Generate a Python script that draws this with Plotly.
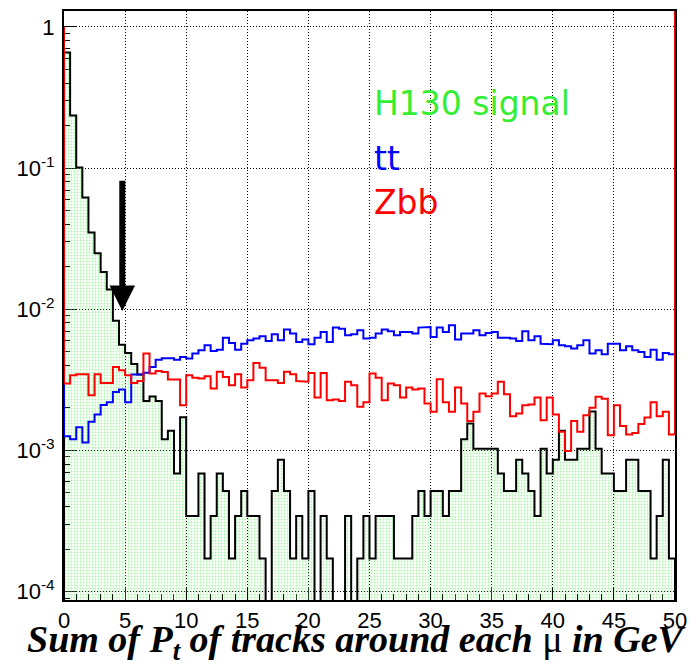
import numpy as np
import plotly.graph_objects as go

# ---------------- data (100 bins, 0..50 GeV) ----------------
x_min, x_max, n_bins = 0.0, 50.0, 100

signal = [0.66, 0.236, 0.101, 0.062, 0.035, 0.025, 0.0184, 0.0138, 0.0083, 0.0056,
          0.0049, 0.0041, 0.00345, 0.00224, 0.00241, 0.00224, 0.0012, 0.00138, 0.000688, 0.00172,
          0.000344, 0.000344, 0.000688, 0.000172, 0.000344, 0.000688, 0.000516, 0.000172, 0.000344, 0.000516,
          0.000344, 0.000344, 0.000172, 0.0, 0.000516, 0.00086, 0.000516, 0.000172, 0.000344, 0.000172,
          0.000516, 0.0, 0.000344, 0.000172, 0.0, 0.0, 0.000344, 0.0, 0.000172, 0.000344,
          0.000172, 0.000344, 0.000344, 0.000344, 0.000172, 0.000172, 0.000172, 0.000344, 0.000516, 0.000344,
          0.000516, 0.000516, 0.000344, 0.000516, 0.000516, 0.0012, 0.00155, 0.00103, 0.00103, 0.00103,
          0.00103, 0.000688, 0.000516, 0.000516, 0.00086, 0.000688, 0.000516, 0.000344, 0.00103, 0.000688,
          0.00086, 0.00138, 0.00086, 0.00086, 0.00103, 0.00103, 0.00189, 0.00103, 0.000688, 0.000688,
          0.000516, 0.000516, 0.00086, 0.00086, 0.000516, 0.000516, 0.000172, 0.000344, 0.00086, 0.000172]

tt = [0.00126, 0.0012, 0.00146, 0.00114, 0.0016, 0.0018, 0.0021, 0.0022, 0.0026, 0.0027,
      0.0022, 0.00345, 0.00345, 0.00355, 0.0039, 0.0044, 0.0045, 0.0045, 0.0044, 0.0046,
      0.00448, 0.00486, 0.00513, 0.00556, 0.00507, 0.00518, 0.0063, 0.00578, 0.00518, 0.0057,
      0.00603, 0.0062, 0.00644, 0.00597, 0.00666, 0.00603, 0.00718, 0.00673, 0.00587, 0.0061,
      0.00565, 0.0063, 0.00691, 0.00587, 0.00742, 0.00727, 0.00655, 0.00666, 0.0071, 0.0062,
      0.0063, 0.00673, 0.00718, 0.0070, 0.00655, 0.00691, 0.00691, 0.00673, 0.00742, 0.0075,
      0.00637, 0.00742, 0.00691, 0.0077, 0.0061, 0.00673, 0.00673, 0.0071, 0.00655, 0.0068,
      0.00691, 0.0063, 0.0063, 0.0062, 0.00597, 0.0070, 0.00603, 0.00644, 0.0057, 0.00565,
      0.00603, 0.00556, 0.00547, 0.00527, 0.00556, 0.00603, 0.00486, 0.00513, 0.0048, 0.0057,
      0.0057, 0.00513, 0.00547, 0.00513, 0.00498, 0.0046, 0.00518, 0.0044, 0.0049, 0.0048]

zbb = [0.00298, 0.00341, 0.00347, 0.00347, 0.00246, 0.00347, 0.00301, 0.00301, 0.00391, 0.0037,
       0.00341, 0.00301, 0.00311, 0.00486, 0.00351, 0.00366, 0.0036, 0.00318, 0.00318, 0.00209,
       0.00341, 0.00328, 0.00323, 0.00336, 0.00275, 0.00361, 0.00332, 0.0029, 0.00347, 0.00279,
       0.00314, 0.00417, 0.00385, 0.00314, 0.00314, 0.00301, 0.00361, 0.00347, 0.0031, 0.00307,
       0.00354, 0.00237, 0.00354, 0.00227, 0.0023, 0.00224, 0.00307, 0.0029, 0.00204, 0.0022,
       0.00351, 0.00328, 0.00227, 0.00298, 0.0029, 0.00237, 0.00279, 0.0027, 0.00275, 0.00215,
       0.00188, 0.0032, 0.0022, 0.00188, 0.00279, 0.00215, 0.00162, 0.00188, 0.00253, 0.00242,
       0.00253, 0.00307, 0.0025, 0.00175, 0.00183, 0.00209, 0.00212, 0.00237, 0.00164, 0.00237,
       0.0018, 0.00136, 0.00099, 0.00162, 0.00136, 0.00178, 0.00201, 0.0024, 0.00233, 0.00128,
       0.00209, 0.00149, 0.0013, 0.00133, 0.00154, 0.00171, 0.0022, 0.00175, 0.00188, 0.0013]

x_tick_vals = [0, 5, 10, 15, 20, 25, 30, 35, 40, 45, 50]
y_tick_vals = [1e-4, 1e-3, 1e-2, 1e-1, 1]
y_tick_text = ["10<sup>-4</sup>", "10<sup>-3</sup>", "10<sup>-2</sup>", "10<sup>-1</sup>", "1"]
y_log_range = [-4.059, 0.113]

labels = ["H130 signal", "tt", "Zbb"]
label_colors = ["#33ee33", "#0000ff", "#ff0000"]

# ---------------- helpers ----------------
edges = np.linspace(x_min, x_max, n_bins + 1)
FLOOR = 1e-9  # empty bins drop below the frame on the log scale


def outline(vals, left=None, right=None):
    xs, ys = [], []
    if left is not None:
        xs.append(edges[0]); ys.append(left)
    for i, v in enumerate(vals):
        v = v if v > 0 else FLOOR
        xs += [edges[i], edges[i + 1]]
        ys += [v, v]
    if right is not None:
        xs.append(edges[-1]); ys.append(right)
    return xs, ys


fig = go.Figure()

sx, sy = outline(signal, FLOOR, FLOOR)
fig.add_trace(go.Scatter(x=sx, y=sy, mode="lines", fill="toself",
                         fillcolor="rgba(0,0,0,0)",
                         fillpattern=dict(shape=".", fgcolor="#55ee55", bgcolor="rgba(0,0,0,0)",
                                          size=3, solidity=0.3),
                         line=dict(width=0), hoverinfo="skip"))
fig.add_trace(go.Scatter(x=sx, y=sy, mode="lines", line=dict(color="black", width=2)))

bx, by = outline(tt, 1, 1)
fig.add_trace(go.Scatter(x=bx, y=by, mode="lines", line=dict(color="#0000ff", width=2)))

rx, ry = outline(zbb, 1, 10 ** y_log_range[1])
fig.add_trace(go.Scatter(x=rx, y=ry, mode="lines", line=dict(color="#ff0000", width=2)))

axis_common = dict(showline=True, linewidth=2, linecolor="black", mirror=True,
                   ticks="inside", ticklen=12, tickwidth=1, tickcolor="black",
                   showgrid=True, gridcolor="black", gridwidth=1, griddash="1px,2px",
                   zeroline=False, layer="below traces")

fig.update_xaxes(range=[x_min, x_max], tickvals=x_tick_vals,
                 tickfont=dict(family="Liberation Sans", size=22, color="black"),
                 ticklabelstandoff=0,
                 minor=dict(ticks="inside", ticklen=6, dtick=1, tickcolor="black", showgrid=False),
                 **axis_common)
fig.update_yaxes(type="log", range=y_log_range, tickvals=y_tick_vals, ticktext=y_tick_text,
                 tickfont=dict(family="Liberation Sans", size=22, color="black"),
                 ticklabelstandoff=3,
                 minor=dict(ticks="inside", ticklen=6, dtick="D1", tickcolor="black", showgrid=False),
                 **axis_common)

annotations = []
label_y = [0.843, 0.7496, 0.6756]
for txt, col, yy in zip(labels, label_colors, label_y):
    annotations.append(dict(text=txt, x=0.504, y=yy, xref="paper", yref="paper",
                            xanchor="left", yanchor="middle", showarrow=False,
                            font=dict(family="DejaVu Sans", size=33, color=col)))

annotations.append(dict(
    text="Sum of P<sub>t</sub> of tracks around each "
         "<span style='font-style:normal;font-weight:normal'>μ</span> in GeV",
    x=0.478, y=-0.071, xref="paper", yref="paper", xanchor="center", yanchor="middle",
    showarrow=False,
    font=dict(family="Liberation Serif", size=38, color="black", weight="bold", style="italic")))

# arrow marking the cut (log-axis annotation coordinates are log10)
annotations.append(dict(x=4.77, y=-2.012, ax=4.77, ay=-1.078, xref="x", yref="y",
                        axref="x", ayref="y", showarrow=True, arrowhead=2,
                        arrowwidth=6, arrowsize=0.85, arrowcolor="black", standoff=0, text=""))

fig.update_layout(width=696, height=666, margin=dict(l=64, r=15, t=9, b=66),
                  plot_bgcolor="white", paper_bgcolor="white", showlegend=False,
                  annotations=annotations)

fig.write_html("out.html")
